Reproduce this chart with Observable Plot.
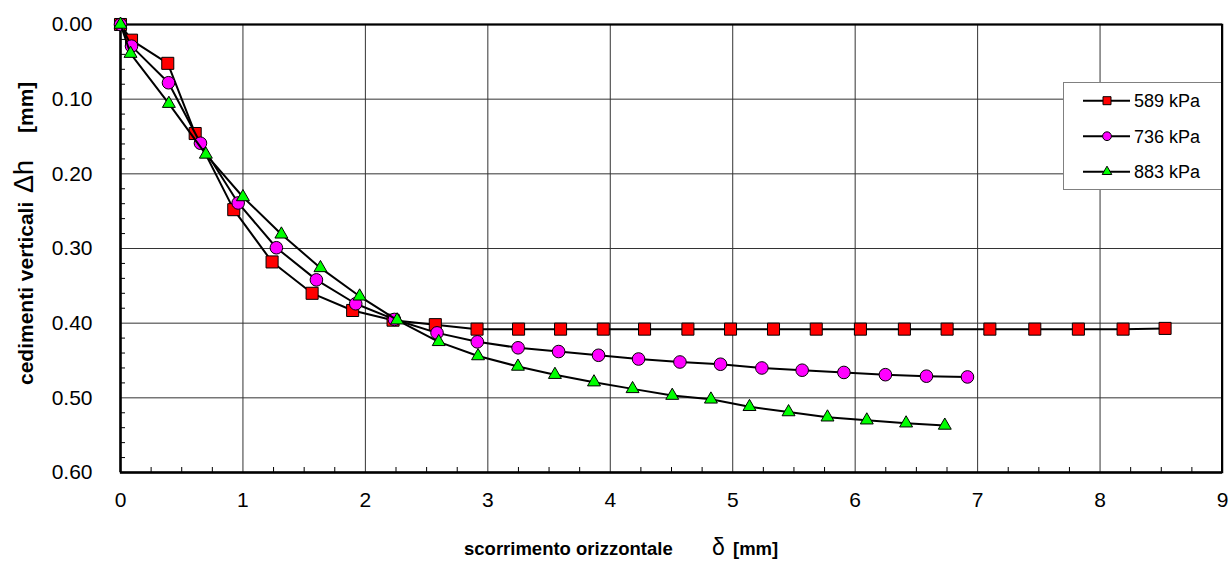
<!DOCTYPE html>
<html>
<head>
<meta charset="utf-8">
<script src="https://cdn.jsdelivr.net/npm/d3@7"></script>
<script src="https://cdn.jsdelivr.net/npm/@observablehq/plot@0.6"></script>
<style>
  body { margin: 0; background: #fff; }
  #chart { width: 1229px; height: 561px; }
  #chart svg { font-family: Arial, "Liberation Sans", sans-serif; }
</style>
</head>
<body>
<div id="chart"></div>
<script>
// Normal load levels (legend entries)
const seriesNames = ["589 kPa", "736 kPa", "883 kPa"];

// Horizontal displacement δ [mm] and vertical settlement Δh [mm], one pair per load
const x589 = [0, 0.09, 0.386, 0.61, 0.925, 1.238, 1.565, 1.896, 2.226, 2.571, 2.912, 3.251, 3.594, 3.943, 4.28, 4.634, 4.982, 5.333, 5.682, 6.043, 6.402, 6.751, 7.10, 7.467, 7.823, 8.188, 8.531];
const y589 = [0, 0.021, 0.052, 0.146, 0.248, 0.318, 0.360, 0.383, 0.396, 0.402, 0.408, 0.408, 0.408, 0.408, 0.408, 0.408, 0.408, 0.408, 0.408, 0.408, 0.408, 0.408, 0.408, 0.408, 0.408, 0.408, 0.407];

const x736 = [0, 0.09, 0.392, 0.653, 0.961, 1.273, 1.60, 1.921, 2.237, 2.585, 2.914, 3.247, 3.578, 3.904, 4.231, 4.569, 4.90, 5.238, 5.567, 5.908, 6.247, 6.582, 6.917];
const y736 = [0, 0.029, 0.078, 0.159, 0.239, 0.299, 0.342, 0.374, 0.395, 0.413, 0.425, 0.433, 0.438, 0.443, 0.448, 0.452, 0.455, 0.460, 0.463, 0.466, 0.469, 0.471, 0.472];

const x883 = [0, 0.082, 0.395, 0.697, 1.0, 1.314, 1.633, 1.953, 2.259, 2.599, 2.92, 3.246, 3.548, 3.867, 4.182, 4.506, 4.822, 5.137, 5.456, 5.774, 6.095, 6.416, 6.732];
const y883 = [0, 0.039, 0.106, 0.174, 0.231, 0.281, 0.326, 0.364, 0.396, 0.425, 0.444, 0.458, 0.469, 0.479, 0.488, 0.497, 0.502, 0.512, 0.519, 0.526, 0.530, 0.534, 0.537];

// Axis ticks
const xTicks = [0, 1, 2, 3, 4, 5, 6, 7, 8, 9];
const xTickLabels = ["0", "1", "2", "3", "4", "5", "6", "7", "8", "9"];
const yTicks = [0, 0.1, 0.2, 0.3, 0.4, 0.5, 0.6];
const yTickLabels = ["0.00", "0.10", "0.20", "0.30", "0.40", "0.50", "0.60"];
const xMinor = d3.range(0, 36).map(i => i * 0.25).filter(v => v % 1 !== 0);
const yMinor = d3.range(0, 31).map(i => i * 0.02).filter((v, i) => i % 5 !== 0);

// Marker styling per series
const fills = ["#ff0000", "#ff00ff", "#00ff00"];
const symbols = ["square", "circle", "triangle"];
const radii = [6.8, 6.3, 4.8];

const xs = [x589, x736, x883];
const ys = [y589, y736, y883];
const rows = seriesNames.map((name, s) => xs[s].map((x, i) => ({series: name, x, y: ys[s][i]})));

const W = 1229, H = 561;
const mL = 120, mR = 7, mT = 24, mB = 89;
const innerW = W - mL - mR, innerH = H - mT - mB;

const seriesMarks = rows.flatMap((data, s) => [
  Plot.line(data, {x: "x", y: "y", stroke: "#000", strokeWidth: 2}),
  Plot.dot(data, {x: "x", y: "y", symbol: () => symbols[s], r: radii[s], fill: fills[s], stroke: "#000", strokeWidth: 1})
]);

const chart = Plot.plot({
  width: W,
  height: H,
  marginLeft: mL,
  marginRight: mR,
  marginTop: mT,
  marginBottom: mB,
  style: {fontFamily: "Arial, 'Liberation Sans', sans-serif", background: "#fff", color: "#000"},
  x: {domain: [0, 9]},
  y: {domain: [0, 0.6], reverse: true},
  symbol: {type: "identity"},
  marks: [
    Plot.gridX(xTicks, {stroke: "#333", strokeOpacity: 1, strokeWidth: 1}),
    Plot.gridY(yTicks, {stroke: "#333", strokeOpacity: 1, strokeWidth: 1}),
    Plot.tickX(xMinor, {x: d => d, stroke: "#000", insetTop: innerH - 5}),
    Plot.tickY(yMinor, {y: d => d, stroke: "#000", insetRight: innerW - 5}),
    Plot.frame({stroke: "#000", strokeWidth: 1.5}),
    Plot.ruleX([0], {stroke: "#000", strokeWidth: 2.5}),
    Plot.ruleY([0.6], {stroke: "#000", strokeWidth: 2.5}),
    Plot.ruleY([0], {stroke: "#000", strokeWidth: 2}),
    ...seriesMarks,
    Plot.axisX(xTicks, {tickSize: 0, tickPadding: 20, fontSize: 21, label: null, tickFormat: (d, i) => xTickLabels[i]}),
    Plot.axisY(yTicks, {tickSize: 0, tickPadding: 28, fontSize: 21, label: null, tickFormat: (d, i) => yTickLabels[i]})
  ]
});

document.getElementById("chart").appendChild(chart);

const svg = d3.select(chart);

// Axis titles
const xTitle = svg.append("text")
  .attr("y", 555)
  .attr("text-anchor", "start")
  .attr("fill", "#000");
xTitle.append("tspan").attr("x", 464).attr("font-weight", "bold").attr("font-size", 18.5).text("scorrimento orizzontale");
xTitle.append("tspan").attr("x", 712).attr("font-size", 23).text("δ");
xTitle.append("tspan").attr("x", 733).attr("font-weight", "bold").attr("font-size", 18.5).text("[mm]");

const yTitle = svg.append("text")
  .attr("transform", "translate(33,385) rotate(-90)")
  .attr("text-anchor", "start")
  .attr("fill", "#000");
yTitle.append("tspan").attr("x", 0).attr("font-weight", "bold").attr("font-size", 21).text("cedimenti verticali");
yTitle.append("tspan").attr("x", 192).attr("font-size", 27).text("Δh");
yTitle.append("tspan").attr("x", 252).attr("font-weight", "bold").attr("font-size", 21).text("[mm]");

// Legend box
const lg = svg.append("g").attr("text-anchor", "start");
lg.append("rect")
  .attr("x", 1063.5).attr("y", 82.5).attr("width", 158).attr("height", 107)
  .attr("fill", "#fff").attr("stroke", "#808080").attr("stroke-width", 1);
const legendSymbols = [d3.symbolSquare, d3.symbolCircle, d3.symbolTriangle];
const legendSizes = [64, 60, 40];
seriesNames.forEach((name, s) => {
  const cy = 100.7 + s * 35.5;
  lg.append("line").attr("x1", 1083).attr("x2", 1130).attr("y1", cy).attr("y2", cy)
    .attr("stroke", "#000").attr("stroke-width", 2);
  lg.append("path")
    .attr("d", d3.symbol(legendSymbols[s], legendSizes[s])())
    .attr("transform", `translate(1107,${cy})`)
    .attr("fill", fills[s]).attr("stroke", "#000").attr("stroke-width", 1);
  lg.append("text").attr("x", 1134).attr("y", cy).attr("dy", "0.35em")
    .attr("font-size", 18).attr("fill", "#000").text(name);
});
// Right edge of the plot frame drawn over the legend border
svg.append("line").attr("x1", W - mR).attr("x2", W - mR).attr("y1", mT).attr("y2", H - mB)
  .attr("stroke", "#000").attr("stroke-width", 2);
</script>
</body>
</html>
